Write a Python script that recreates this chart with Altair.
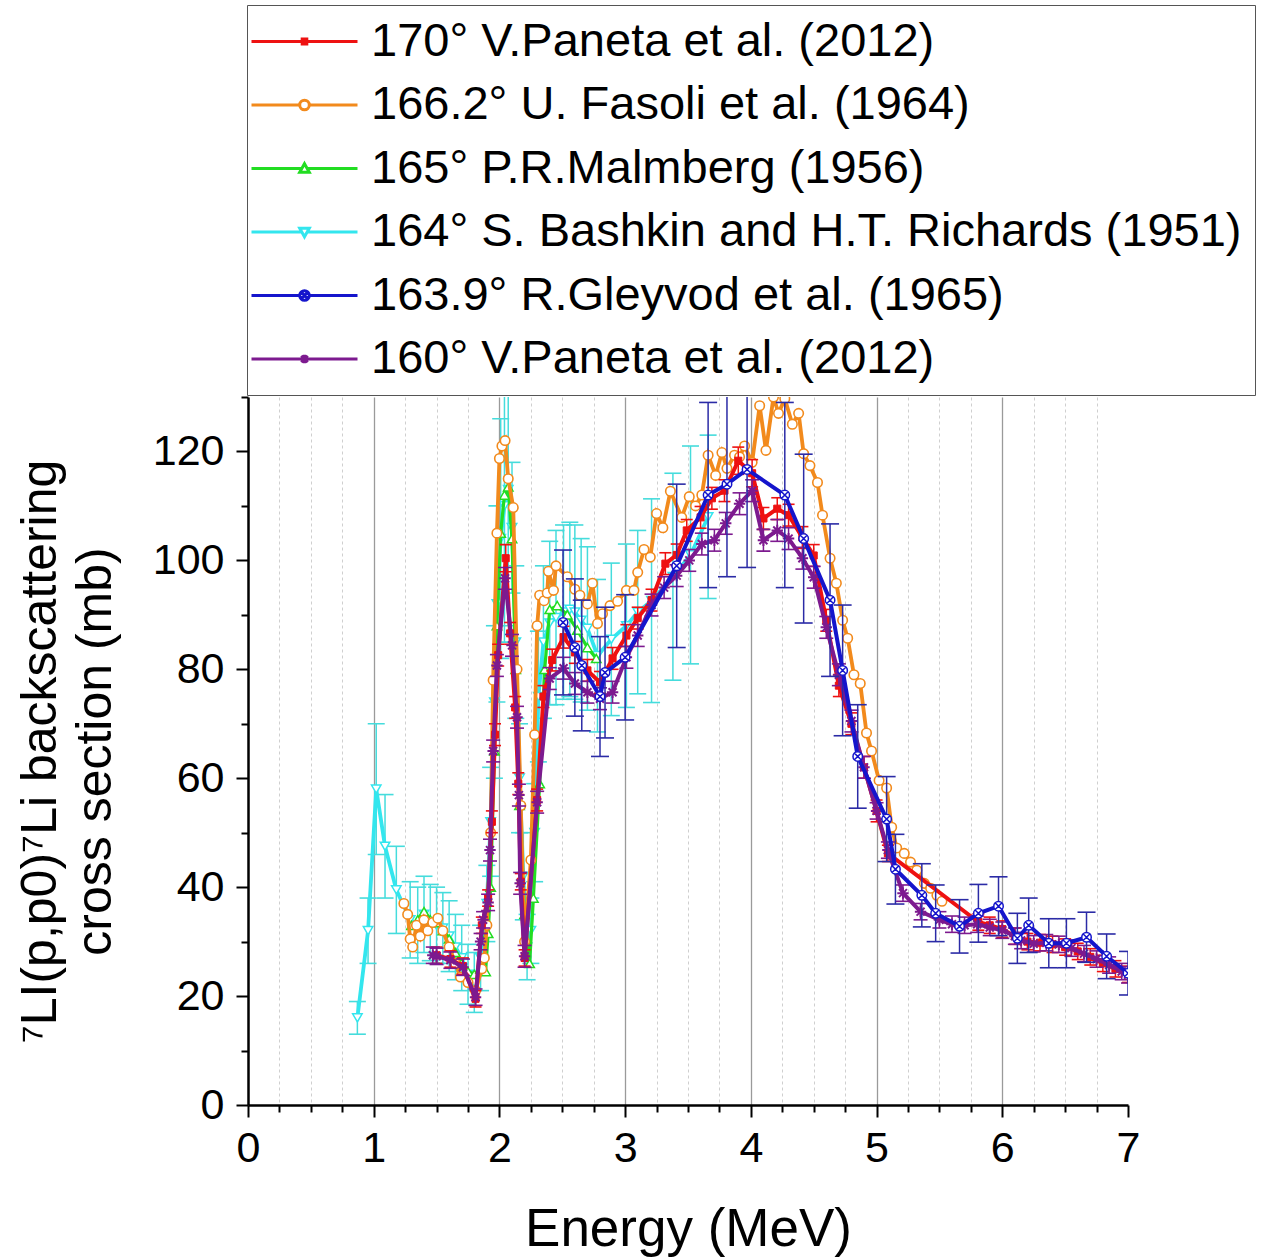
import altair as alt
import pandas as pd

# ---------------- data ----------------
series_names = [
    "170° V.Paneta et al. (2012)",
    "166.2° U. Fasoli et al. (1964)",
    "165° P.R.Malmberg (1956)",
    "164° S. Bashkin and H.T. Richards (1951)",
    "163.9° R.Gleyvod et al. (1965)",
    "160° V.Paneta et al. (2012)",
]
series_colors = ["#ee1111", "#f28a1c", "#22dd22", "#33e6ee", "#1515cc", "#7d1a8f"]

# 170° V.Paneta et al. (2012)
red_E = [1.50, 1.61, 1.71, 1.81, 1.86, 1.91, 1.94, 1.965, 1.99, 2.05, 2.085, 2.125, 2.15, 2.17, 2.20,
         2.30, 2.35, 2.42, 2.51, 2.60, 2.70, 2.80, 2.90, 3.01, 3.10, 3.21, 3.32, 3.41, 3.49, 3.60, 3.69,
         3.79, 3.90, 4.01, 4.10, 4.21, 4.30, 4.41, 4.50, 4.60, 4.70, 4.80, 4.90, 5.00, 5.09, 5.81, 5.90,
         6.00, 6.10, 6.20, 6.30, 6.40, 6.50, 6.60, 6.70, 6.80, 6.90, 7.00]
red_s = [27.5, 26.8, 25.5, 19.5, 33.0, 38.0, 52.0, 68.0, 82.6, 100.4, 86.6, 73.0, 59.0, 41.0, 27.0,
         56.0, 75.0, 81.7, 85.9, 83.1, 79.8, 77.6, 82.0, 86.2, 89.4, 92.7, 99.4, 101.0, 105.5, 107.9, 111.4,
         112.8, 118.3, 116.0, 107.7, 109.5, 108.3, 104.2, 100.9, 89.0, 77.0, 70.0, 62.0, 54.0, 46.2, 33.6, 33.0,
         32.3, 31.0, 30.0, 29.8, 29.5, 29.0, 28.2, 27.2, 26.0, 25.0, 24.0]
red_err = [1.5, 1.5, 1.5, 1.5, 1.5, 1.5, 2, 2, 2, 2.5, 2, 2, 2, 1.5, 1.5,
           2, 2, 2, 2, 2, 2, 2, 2, 2, 2, 2, 2, 2, 2, 2, 2,
           2, 2.5, 2.5, 2, 2, 2, 2, 2, 2, 2, 2, 2, 2, 1.5, 1.5, 1.5,
           1.5, 1.5, 1.5, 1.5, 1.5, 1.5, 1.5, 1.5, 1.5, 1.5, 1.5]

# 166.2° U. Fasoli et al. (1964)
orange_E = [1.24, 1.27, 1.29, 1.31, 1.34, 1.37, 1.40, 1.43, 1.47, 1.51, 1.55, 1.60, 1.65, 1.69, 1.75,
            1.81, 1.86, 1.88, 1.90, 1.93, 1.95, 1.98, 2.00, 2.02, 2.045, 2.07, 2.11, 2.14, 2.17, 2.20,
            2.25, 2.28, 2.30, 2.32, 2.355, 2.38, 2.39, 2.43, 2.45, 2.54, 2.60, 2.64, 2.70, 2.74, 2.78,
            2.82, 2.88, 2.94, 3.01, 3.07, 3.10, 3.15, 3.20, 3.25, 3.30, 3.36, 3.45, 3.51, 3.56, 3.61,
            3.66, 3.72, 3.77, 3.81, 3.87, 3.91, 3.95, 4.01, 4.07, 4.12, 4.18, 4.22, 4.27, 4.33, 4.38,
            4.42, 4.47, 4.53, 4.57, 4.63, 4.68, 4.73, 4.77, 4.82, 4.87, 4.92, 4.96, 5.02, 5.08, 5.12,
            5.16, 5.22, 5.27, 5.32, 5.38, 5.43, 5.48, 5.52]
orange_s = [37.0, 35.0, 30.5, 29.0, 33.0, 31.0, 34.0, 32.0, 33.5, 34.3, 32.0, 29.0, 26.0, 23.5, 22.5,
            21.0, 25.0, 27.0, 33.0, 50.0, 78.0, 105.0, 118.7, 121.0, 122.0, 115.0, 109.7, 80.0, 55.0, 30.0,
            45.0, 68.0, 88.0, 93.6, 92.6, 94.0, 98.0, 94.5, 99.0, 97.0, 94.7, 93.6, 92.0, 95.8, 88.4,
            90.2, 91.7, 92.5, 94.5, 94.5, 97.8, 102.0, 100.6, 108.6, 106.0, 112.7, 107.9, 111.7, 110.0, 112.0,
            119.3, 115.6, 119.8, 116.9, 119.3, 119.0, 121.0, 118.0, 128.4, 120.2, 130.0, 127.0, 129.7, 125.0, 127.0,
            119.6, 117.4, 114.3, 108.3, 100.4, 95.8, 89.0, 85.7, 79.0, 77.4, 68.3, 65.0, 59.6, 58.2, 51.0,
            47.2, 46.2, 44.6, 43.1, 40.7, 39.8, 38.5, 37.4]

# 165° P.R.Malmberg (1956)
green_E = [1.30, 1.35, 1.40, 1.45, 1.50, 1.55, 1.60, 1.65, 1.70, 1.75, 1.80, 1.85, 1.89, 1.91, 1.93,
           1.96, 1.98, 2.01, 2.04, 2.07, 2.10, 2.13, 2.16, 2.20, 2.24, 2.27, 2.32, 2.36, 2.40, 2.46,
           2.54, 2.62, 2.70, 2.77]
green_s = [33.0, 34.0, 35.5, 34.0, 33.5, 32.0, 30.5, 28.0, 26.0, 24.5, 24.0, 25.0, 24.5, 31.5, 40.0,
           65.0, 88.0, 105.0, 112.0, 113.5, 104.0, 80.0, 55.0, 35.0, 26.0, 38.0, 59.0, 80.0, 91.0, 91.7,
           90.0, 87.2, 84.0, 82.0]

# 164° S. Bashkin and H.T. Richards (1951)
cyan_E = [0.87, 0.955, 1.02, 1.09, 1.18, 1.29, 1.35, 1.40, 1.45, 1.50, 1.55, 1.60, 1.65, 1.70, 1.75,
          1.80, 1.85, 1.90, 1.93, 1.96, 1.98, 2.01, 2.04, 2.07, 2.10, 2.13, 2.16, 2.19, 2.22, 2.25,
          2.28, 2.31, 2.35, 2.40, 2.45, 2.51, 2.56, 2.60, 2.65, 2.70, 2.78, 2.89, 3.01, 3.10, 3.21,
          3.38, 3.52, 3.66]
cyan_s = [16.0, 32.0, 58.0, 47.5, 39.5, 34.0, 33.0, 35.0, 33.5, 33.0, 32.5, 31.0, 29.0, 27.0, 24.0,
          22.5, 27.0, 37.0, 52.0, 74.0, 92.0, 104.0, 110.0, 113.0, 106.0, 85.0, 60.0, 42.0, 29.0, 32.0,
          50.0, 75.0, 85.0, 88.5, 89.5, 90.5, 91.0, 90.5, 89.0, 87.5, 82.5, 85.5, 88.0, 90.5, 92.6,
          97.0, 101.0, 108.0]
cyan_err = [3.0, 6.0, 12.0, 9.5, 8.0, 7.0, 7.0, 7.0, 7.0, 7.0, 6.5, 6.5, 6.0, 6.0, 5.5,
            5.5, 6.0, 7.0, 10.0, 14.0, 18.0, 22.0, 25.0, 25.0, 12.0, 14.0, 10.0, 8.0, 6.0, 6.0,
            9.0, 12.0, 14.0, 15.0, 16.0, 16.0, 16.0, 16.0, 15.0, 15.0, 14.0, 14.0, 15.0, 15.0, 18.7,
            19.0, 20.0, 15.0]

# 163.9° R.Gleyvod et al. (1965)
blue_E = [2.506, 2.60, 2.655, 2.80, 2.84, 3.00, 3.41, 3.66, 3.81, 3.97, 4.27, 4.42, 4.63, 4.73, 4.85,
          5.08, 5.15, 5.36, 5.47, 5.66, 5.81, 5.97, 6.12, 6.21, 6.37, 6.51, 6.67, 6.83, 7.00]
blue_s = [88.6, 84.0, 80.7, 75.0, 79.4, 82.2, 99.0, 112.0, 114.0, 116.7, 112.0, 104.0, 92.7, 79.8, 64.0,
          52.5, 43.3, 38.5, 35.2, 32.8, 35.2, 36.5, 30.6, 33.0, 29.7, 29.7, 30.8, 27.3, 24.2]
blue_err = [13.3, 12.6, 12.0, 11.0, 12.0, 11.5, 15.0, 17.0, 17.0, 18.0, 17.0, 15.5, 14.0, 12.0, 9.5,
            7.8, 6.4, 5.8, 5.2, 4.9, 5.3, 5.4, 4.6, 5.0, 4.5, 4.5, 4.6, 4.1, 4.0]

# 160° V.Paneta et al. (2012)
purple_E = [1.47, 1.50, 1.61, 1.71, 1.81, 1.85, 1.87, 1.91, 1.925, 1.95, 1.98, 2.045, 2.10, 2.14, 2.155,
            2.165, 2.20, 2.30, 2.40, 2.51, 2.60, 2.70, 2.80, 2.90, 3.01, 3.10, 3.21, 3.31, 3.41, 3.51,
            3.61, 3.71, 3.80, 3.91, 4.01, 4.10, 4.21, 4.30, 4.41, 4.50, 4.60, 4.70, 4.80, 4.90, 5.00,
            5.09, 5.21, 5.35, 5.50, 5.60, 5.70, 5.80, 5.90, 6.00, 6.10, 6.15, 6.25, 6.35, 6.45, 6.55,
            6.65, 6.75, 6.85, 6.95, 7.00]
purple_s = [27.5, 27.3, 26.6, 25.3, 19.8, 30.0, 34.0, 37.2, 46.8, 65.0, 80.7, 96.7, 84.4, 71.2, 56.9,
            40.7, 27.3, 55.6, 78.3, 80.2, 77.4, 75.8, 74.6, 75.8, 82.2, 86.2, 91.8, 95.0, 97.2, 100.0,
            103.0, 103.7, 106.8, 110.4, 112.8, 103.7, 105.5, 104.0, 100.4, 96.9, 87.7, 79.0, 70.5, 62.0, 54.0,
            46.8, 38.9, 35.5, 34.0, 33.2, 33.0, 33.2, 32.6, 32.1, 31.0, 30.2, 29.6, 29.8, 29.5, 28.8,
            27.8, 26.8, 25.7, 24.5, 23.9]
purple_err = [1.5] * 8 + [2.0] * 36 + [1.5] * 21

x_ticks = [i * 0.25 for i in range(29)]
y_ticks = [i * 10 for i in range(14)]

# ---------------- helpers ----------------
FONT = "Liberation Sans"
xscale = alt.Scale(domain=[0, 7], nice=False, zero=False)
yscale = alt.Scale(domain=[0, 130], nice=False, zero=False)

int_test = "datum.value % 1 === 0"
x_axis = alt.Axis(
    values=x_ticks,
    labelExpr="datum.value % 1 === 0 ? format(datum.value, 'd') : ''",
    labelOverlap=False, labelFlush=False,
    labelFontSize=43, labelFont=FONT, labelColor="black", labelPadding=10,
    tickSize={"condition": {"test": int_test, "value": 12}, "value": 7},
    tickColor="black", tickWidth=2,
    domainColor="black", domainWidth=2.5,
    grid=True,
    gridColor={"condition": {"test": int_test, "value": "#9a9a9a"}, "value": "#cfcfcf"},
    gridDash={"condition": {"test": int_test, "value": []}, "value": [3, 3]},
    gridWidth={"condition": {"test": int_test, "value": 1.3}, "value": 1},
    gridOpacity={"condition": {"test": "datum.value === 0 || datum.value === 7", "value": 0}, "value": 1},
    title="Energy (MeV)", titleFont=FONT, titleFontSize=53, titleFontWeight="normal",
    titleColor="black", titleX=440, titleY=140, titleBaseline="alphabetic", titleAlign="center",
)
y_axis = alt.Axis(
    values=y_ticks,
    labelExpr="datum.value % 20 === 0 && datum.value <= 120 ? format(datum.value, 'd') : ''",
    labelOverlap=False, labelFlush=False,
    labelFontSize=43, labelFont=FONT, labelColor="black", labelPadding=12,
    tickSize={"condition": {"test": "datum.value % 20 === 0", "value": 12}, "value": 7},
    tickColor="black", tickWidth=2,
    domainColor="black", domainWidth=2.5,
    grid=False,
    title=["⁷LI(p,p0)⁷Li backscattering", "cross section (mb)"],
    titleFont=FONT, titleFontSize=50, titleFontWeight="normal", titleColor="black",
    titleAngle=270, titleX=-233, titleY=354, titleBaseline="top", titleAlign="center",
    titleLineHeight=55,
)


def frame(E, s, err=None):
    d = {"E": E, "s": s}
    if err is not None:
        d["lo"] = [v - e for v, e in zip(s, err)]
        d["hi"] = [v + e for v, e in zip(s, err)]
    return pd.DataFrame(d)


ASTER = "M-1,0L1,0M0,-1L0,1M-0.7,-0.7L0.7,0.7M-0.7,0.7L0.7,-0.7"
OTIMES = "M-1,0A1,1,0,1,1,1,0A1,1,0,1,1,-1,0ZM-0.7,-0.7L0.7,0.7M-0.7,0.7L0.7,-0.7"


def series_layers(E, s, err, color, line_w, shape, size, filled, mk_w, err_color=None, cap=14):
    df = frame(E, s, err)
    base = alt.Chart(df)
    X = alt.X("E:Q", scale=xscale, axis=x_axis)
    layers = []
    if err is not None:
        ec = err_color or color
        layers.append(base.mark_rule(color=ec, strokeWidth=1.5, clip=True).encode(
            x=X, y=alt.Y("lo:Q", scale=yscale, axis=y_axis), y2="hi:Q"))
        for f in ("lo", "hi"):
            layers.append(base.mark_tick(color=ec, orient="horizontal", size=cap, thickness=1.6,
                                         opacity=1, clip=True).encode(
                x=X, y=alt.Y(f + ":Q", scale=yscale, axis=y_axis)))
    layers.append(base.mark_line(color=color, strokeWidth=line_w, clip=True).encode(
        x=X, y=alt.Y("s:Q", scale=yscale, axis=y_axis)))
    layers.append(base.mark_point(shape=shape, size=size, stroke=color,
                                  fill=(color if filled else "white"), filled=True,
                                  strokeWidth=mk_w, opacity=1, clip=True).encode(
        x=X, y=alt.Y("s:Q", scale=yscale, axis=y_axis)))
    return layers


layers = []
layers += series_layers(cyan_E, cyan_s, cyan_err, series_colors[3], 3.8, "triangle-down", 90, False, 1.5,
                        err_color="#45dcdc", cap=17)
layers += series_layers(green_E, green_s, None, series_colors[2], 3.2, "triangle-up", 90, False, 1.5)
layers += series_layers(orange_E, orange_s, None, series_colors[1], 3.8, "circle", 90, False, 1.6)
layers += series_layers(red_E, red_s, red_err, series_colors[0], 4.0, "square", 50, True, 1.0, cap=12)
layers += series_layers(purple_E, purple_s, purple_err, series_colors[5], 4.0, ASTER, 130, False, 2.0, cap=14)
layers += series_layers(blue_E, blue_s, blue_err, series_colors[4], 4.0, OTIMES, 90, False, 1.5,
                        err_color="#2b2ba6", cap=18)

# ---------------- legend (line + marker symbols) ----------------
legend_paths = [
    "M-2.65,0H2.65M-0.19,-0.13H0.19M-0.19,0H0.19M-0.19,0.13H0.19",
    "M-2.65,0H-0.24M0.24,0H2.65M-0.24,0A0.24,0.24,0,1,1,0.24,0A0.24,0.24,0,1,1,-0.24,0",
    "M-2.65,0H-0.13M0.13,0H2.65M0,-0.24L0.24,0.19L-0.24,0.19Z",
    "M-2.65,0H-0.13M0.13,0H2.65M0,0.24L0.24,-0.19L-0.24,-0.19Z",
    "M-2.65,0H-0.24M0.24,0H2.65M-0.24,0A0.24,0.24,0,1,1,0.24,0A0.24,0.24,0,1,1,-0.24,0"
    "M-0.17,-0.17L0.17,0.17M-0.17,0.17L0.17,-0.17",
    "M-2.65,0H2.65M0,-0.21V0.21M-0.16,-0.16L0.16,0.16M-0.16,0.16L0.16,-0.16",
]
legend_df = pd.DataFrame({"series": series_names, "lx": [-5.0] * 6, "ly": [-5.0] * 6})
leg = alt.Legend(
    orient="none", legendX=-1, legendY=-392, title=None,
    labelFont=FONT, labelFontSize=47, labelColor="black", labelLimit=1200, labelOffset=43,
    symbolSize=1600, symbolStrokeWidth=3, symbolOpacity=1, symbolOffset=21,
    padding=13, rowPadding=15.5, strokeColor="#555555", fillColor="white",
)
legend_layer = alt.Chart(legend_df).mark_point(filled=False, opacity=1, clip=True, strokeWidth=3).encode(
    x=alt.X("lx:Q", scale=xscale, axis=x_axis),
    y=alt.Y("ly:Q", scale=yscale, axis=y_axis),
    stroke=alt.Stroke("series:N", sort=series_names,
                      scale=alt.Scale(domain=series_names, range=series_colors), legend=leg),
    shape=alt.Shape("series:N", sort=series_names,
                    scale=alt.Scale(domain=series_names, range=legend_paths), legend=leg),
)
layers.append(legend_layer)

chart = alt.layer(*layers).properties(
    width=880, height=708,
    autosize=alt.AutoSizeParams(type="none"),
    padding={"left": 248, "top": 397, "right": 136, "bottom": 153},
    background="white",
).configure_view(stroke=None)

chart.save("out.html", embed_options={"renderer": "svg", "actions": False})
